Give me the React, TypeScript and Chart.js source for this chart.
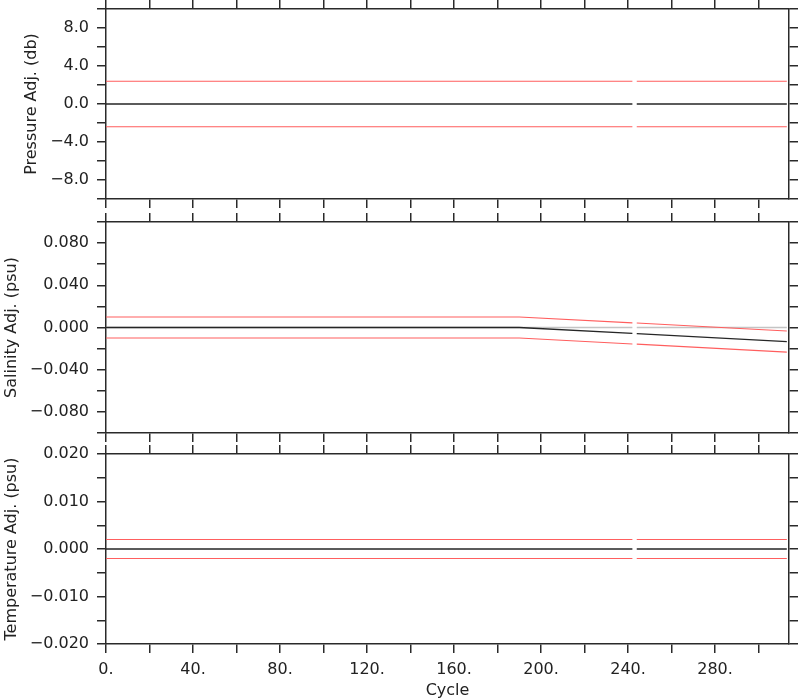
import React, { useEffect, useRef } from 'react';
import { Chart, registerables } from 'chart.js';

Chart.register(...registerables);

// ---- data ----
const cycles = [0, 190, 242, 243, 244, 313];

const pressureAdj = [0, 0, 0, null, 0, 0];
const pressureUpper = [2.4, 2.4, 2.4, null, 2.4, 2.4];
const pressureLower = [-2.4, -2.4, -2.4, null, -2.4, -2.4];

const salinityAdj = [0, 0, -0.0056, null, -0.0058, -0.0133];
const salinityUpper = [0.01, 0.01, 0.0044, null, 0.0042, -0.0033];
const salinityLower = [-0.01, -0.01, -0.0156, null, -0.0158, -0.0233];
const salinityZero = [0, 0, 0, null, 0, 0];

const temperatureAdj = [0, 0, 0, null, 0, 0];
const temperatureUpper = [0.002, 0.002, 0.002, null, 0.002, 0.002];
const temperatureLower = [-0.002, -0.002, -0.002, null, -0.002, -0.002];

// ---- ticks ----
const cycleTicks = [0, 20, 40, 60, 80, 100, 120, 140, 160, 180, 200, 220, 240, 260, 280, 300];
const cycleLabels = ['0.', '', '40.', '', '80.', '', '120.', '', '160.', '', '200.', '', '240.', '', '280.', ''];

const pressureTicks = [-10, -8, -6, -4, -2, 0, 2, 4, 6, 8, 10];
const pressureLabels = ['', '\u22128.0', '', '\u22124.0', '', '0.0', '', '4.0', '', '8.0', ''];

const salinityTicks = [-0.1, -0.08, -0.06, -0.04, -0.02, 0, 0.02, 0.04, 0.06, 0.08, 0.1];
const salinityLabels = ['', '\u22120.080', '', '\u22120.040', '', '0.000', '', '0.040', '', '0.080', ''];

const temperatureTicks = [-0.02, -0.015, -0.01, -0.005, 0, 0.005, 0.01, 0.015, 0.02];
const temperatureLabels = ['\u22120.020', '', '\u22120.010', '', '0.000', '', '0.010', '', '0.020'];

const CYCLE_MIN = 0;
const CYCLE_MAX = 314;

const AXIS = '#2a2a2a';
const TEXT = '#222222';
const BLACK = '#262626';
const RED = '#ff5e5e';
const GREY = '#c4c4c4';
const FONT = { family: 'DejaVu Sans', size: 16 };

type Series = { values: (number | null)[]; color: string; width: number };

type PanelSpec = {
  title: string;
  titlePad: number;
  yMin: number;
  yMax: number;
  yTicks: number[];
  yLabels: string[];
  series: Series[];
  canvasTop: number;
  padTop: number;
  padBottom: number;
  showX: boolean;
  bottomHeight: number;
};

const panels: PanelSpec[] = [
  {
    title: 'Pressure Adj. (db)',
    titlePad: 22,
    yMin: -10,
    yMax: 10,
    yTicks: pressureTicks,
    yLabels: pressureLabels,
    series: [
      { values: pressureAdj, color: BLACK, width: 1.3 },
      { values: pressureUpper, color: RED, width: 1.1 },
      { values: pressureLower, color: RED, width: 1.1 },
    ],
    canvasTop: -30,
    padTop: 30,
    padBottom: 462,
    showX: false,
    bottomHeight: 9,
  },
  {
    title: 'Salinity Adj. (psu)',
    titlePad: 2,
    yMin: -0.1,
    yMax: 0.1,
    yTicks: salinityTicks,
    yLabels: salinityLabels,
    series: [
      { values: salinityAdj, color: BLACK, width: 1.3 },
      { values: salinityUpper, color: RED, width: 1.1 },
      { values: salinityLower, color: RED, width: 1.1 },
      { values: salinityZero, color: GREY, width: 1.3 },
    ],
    canvasTop: 0,
    padTop: 213,
    padBottom: 258,
    showX: false,
    bottomHeight: 9,
  },
  {
    title: 'Temperature Adj. (psu)',
    titlePad: 2,
    yMin: -0.02,
    yMax: 0.02,
    yTicks: temperatureTicks,
    yLabels: temperatureLabels,
    series: [
      { values: temperatureAdj, color: BLACK, width: 1.3 },
      { values: temperatureUpper, color: RED, width: 1.1 },
      { values: temperatureLower, color: RED, width: 1.1 },
    ],
    canvasTop: 0,
    padTop: 445,
    padBottom: 0,
    showX: true,
    bottomHeight: 56,
  },
];

function buildConfig(p: PanelSpec): any {
  const setTicks = (vals: number[]) => (scale: any) => {
    scale.ticks = vals.map((v) => ({ value: v }));
  };
  const grid = {
    display: true,
    drawOnChartArea: false,
    drawTicks: true,
    tickLength: 9,
    color: AXIS,
    lineWidth: 1.5,
  };
  const border = { display: true, color: AXIS, width: 1.5 };

  return {
    type: 'line',
    data: {
      datasets: p.series.map((s) => ({
        data: cycles.map((c, i) => ({ x: c, y: s.values[i] })),
        borderColor: s.color,
        borderWidth: s.width,
        pointRadius: 0,
        fill: false,
        tension: 0,
        spanGaps: false,
      })),
    },
    options: {
      responsive: false,
      animation: false,
      devicePixelRatio: 1,
      layout: { padding: { top: p.padTop, bottom: p.padBottom, left: 0, right: 0 } },
      plugins: { legend: { display: false }, tooltip: { enabled: false } },
      events: [],
      scales: {
        x: {
          type: 'linear',
          position: 'bottom',
          min: CYCLE_MIN,
          max: CYCLE_MAX,
          afterBuildTicks: setTicks(cycleTicks),
          afterFit: (scale: any) => {
            scale.height = p.bottomHeight;
          },
          grid,
          border,
          ticks: {
            autoSkip: false,
            maxRotation: 0,
            padding: 7,
            color: TEXT,
            font: FONT,
            callback: (_v: any, i: number) => (p.showX ? cycleLabels[i] : ''),
          },
          title: {
            display: p.showX,
            text: 'Cycle',
            color: TEXT,
            font: FONT,
            padding: { top: 0, bottom: 0 },
          },
        },
        xTop: {
          type: 'linear',
          position: 'top',
          min: CYCLE_MIN,
          max: CYCLE_MAX,
          afterBuildTicks: setTicks(cycleTicks),
          afterFit: (scale: any) => {
            scale.height = 9;
          },
          grid,
          border,
          ticks: { autoSkip: false, maxRotation: 0, padding: 0, font: FONT, callback: () => '' },
        },
        y: {
          type: 'linear',
          position: 'left',
          min: p.yMin,
          max: p.yMax,
          afterBuildTicks: setTicks(p.yTicks),
          afterFit: (scale: any) => {
            scale.width = 106;
          },
          grid,
          border,
          ticks: {
            autoSkip: false,
            padding: 8,
            color: TEXT,
            font: { ...FONT, lineHeight: 1 },
            callback: (_v: any, i: number) => p.yLabels[i],
          },
          title: {
            display: true,
            text: p.title,
            color: TEXT,
            font: FONT,
            padding: { top: p.titlePad, bottom: 0 },
          },
        },
        yRight: {
          type: 'linear',
          position: 'right',
          min: p.yMin,
          max: p.yMax,
          afterBuildTicks: setTicks(p.yTicks),
          afterFit: (scale: any) => {
            scale.width = 11;
          },
          grid,
          border,
          ticks: { autoSkip: false, padding: 0, font: { ...FONT, lineHeight: 1 }, callback: () => '' },
        },
      },
    },
  };
}

function Panel({ spec }: { spec: PanelSpec }) {
  const ref = useRef<HTMLCanvasElement | null>(null);
  useEffect(() => {
    if (!ref.current) return;
    const chart = new Chart(ref.current, buildConfig(spec));
    return () => chart.destroy();
  }, [spec]);
  return (
    <canvas
      ref={ref}
      width={800}
      height={700}
      style={{ position: 'absolute', left: 0, top: spec.canvasTop, width: 800, height: 700 }}
    />
  );
}

export default function App() {
  return (
    <div
      style={{
        position: 'absolute',
        left: 0,
        top: 0,
        width: 800,
        height: 700,
        background: '#ffffff',
        overflow: 'hidden',
      }}
    >
      {panels.map((p, i) => (
        <Panel key={i} spec={p} />
      ))}
    </div>
  );
}
